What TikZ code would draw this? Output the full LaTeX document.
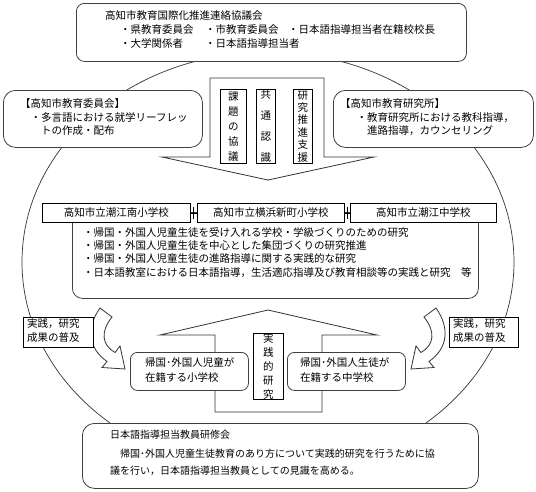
\documentclass[tikz,border=0pt]{standalone}
\usepackage{fontspec}
\newfontfamily\jp{Noto Sans CJK JP}
\begin{document}
\begin{tikzpicture}[x=1pt,y=-1pt,
  line join=miter,
  rbox/.style={draw=black!75, fill=white, line width=0.8pt, inner sep=0pt, anchor=north west},
  sbox/.style={draw=black, fill=white, line width=0.7pt, inner sep=0pt, anchor=north west,
    font={\jp\fontsize{10.5pt}{12pt}\selectfont}},
  vbox/.style={draw=black, fill=white, line width=0.7pt, inner sep=0pt, anchor=north west, align=center},
  blockarrow/.style={draw=black!80, fill=white, line width=0.8pt},
  txt/.style={anchor=base west, inner sep=0pt, font={\jp\fontsize{10.5pt}{12pt}\selectfont}},
  txts/.style={anchor=base west, inner sep=0pt, font={\jp\fontsize{10pt}{12pt}\selectfont}},
  conn/.style={draw=black, line width=0.7pt}
]
\useasboundingbox (0,0) rectangle (536,491);
\fill[white] (0,0) rectangle (536,491);

% big ellipse
\draw[line width=0.7pt, draw=black!80] (268,262) ellipse [x radius=246, y radius=210];

% central down arrow
\draw[blockarrow] (210,78) -- (324,78) -- (324,157) -- (374,157) -- (268,180) -- (162,157) -- (210,157) -- cycle;

% lower up arrow
\draw[blockarrow] (215,412) -- (215,335) -- (160,335) -- (268,310) -- (377,335) -- (322,335) -- (322,412) -- cycle;

% curved arrows
\draw[blockarrow] (100,308) -- (112,317) .. controls (100,332) and (102,345) .. (115,352.5)
  -- (120,346) -- (125,369) -- (102,367.5) -- (107,361.5)
  .. controls (88,348) and (86,328) .. (100,308) -- cycle;
\draw[blockarrow] (436,308) -- (424,317) .. controls (436,332) and (434,345) .. (421,352.5)
  -- (416,346) -- (411,369) -- (434,367.5) -- (429,361.5)
  .. controls (448,348) and (450,328) .. (436,308) -- cycle;

% top box
\node[rbox, rounded corners=8pt, minimum width=390pt, minimum height=58pt] (top) at (76,3) {};
\node[txt] (t1) at (105,19.5) {高知市教育国際化推進連絡協議会};
\node[txt] (t2) at (120,33) {・県教育委員会};
\node[txt] (t3) at (205,33) {・市教育委員会};
\node[txt] (t4) at (288,33) {・日本語指導担当者在籍校校長};
\node[txt] (t5) at (120,47) {・大学関係者};
\node[txt] (t6) at (205,47) {・日本語指導担当者};

% left and right boxes
\node[rbox, rounded corners=12pt, minimum width=199pt, minimum height=57pt] (lbox) at (3,90) {};
\node[txt] (l1) at (20,107) {【高知市教育委員会】};
\node[txt] (l2) at (30.5,121) {・多言語における就学リーフレッ};
\node[txt] (l3) at (41,134) {トの作成・配布};

\node[rbox, rounded corners=12pt, minimum width=200pt, minimum height=57pt] (rbox1) at (333,90) {};
\node[txt] (r1) at (340,107) {【高知市教育研究所】};
\node[txt] (r2) at (356.5,121) {・教育研究所における教科指導，};
\node[txt] (r3) at (367,134) {進路指導，カウンセリング};

% vertical label boxes
\node[vbox, minimum width=26pt, minimum height=74pt, font={\jp\fontsize{10.5pt}{15pt}\selectfont}] (kadai) at (220,89) {課\\題\\の\\協\\議};
\node[vbox, minimum width=19pt, minimum height=74pt, font={\jp\fontsize{10.5pt}{21pt}\selectfont}] (kyotsu) at (256,89) {共\\通\\認\\識};
\node[vbox, minimum width=19pt, minimum height=74pt, font={\jp\fontsize{10.5pt}{12.4pt}\selectfont}] (shien) at (293,89) {研\\究\\推\\進\\支\\援};

% content box
\node[rbox, rounded corners=10pt, minimum width=406pt, minimum height=86pt] (content) at (72,212) {};
\node[txt] (c1) at (83,236) {・帰国・外国人児童生徒を受け入れる学校・学級づくりのための研究};
\node[txt] (c2) at (83,249.5) {・帰国・外国人児童生徒を中心とした集団づくりの研究推進};
\node[txt] (c3) at (83,262.5) {・帰国・外国人児童生徒の進路指導に関する実践的な研究};
\node[txt] (c4) at (83,276.5) {・日本語教室における日本語指導，生活適応指導及び教育相談等の実践と研究　等};

% school boxes
\node[sbox, minimum width=148pt, minimum height=19pt] (s1) at (42,203) {高知市立潮江南小学校};
\node[sbox, minimum width=147pt, minimum height=19pt] (s2) at (197,203) {高知市立横浜新町小学校};
\node[sbox, minimum width=146pt, minimum height=19pt] (s3) at (350,203) {高知市立潮江中学校};
\draw[conn] (s1.east) -- (s2.west);
\draw[conn] (s2.east) -- (s3.west);
\coordinate (k1a) at ([xshift=2.5pt,yshift=-6pt]s1.east);
\coordinate (k1b) at ([xshift=2.5pt,yshift=6pt]s1.east);
\draw[conn] (k1a) -- (k1b);
\coordinate (k2a) at ([xshift=2.5pt,yshift=-6pt]s2.east);
\coordinate (k2b) at ([xshift=2.5pt,yshift=6pt]s2.east);
\draw[conn] (k2a) -- (k2b);

% spread label boxes
\node[vbox, minimum width=70pt, minimum height=30pt] (fukyuL) at (23,317) {};
\node[txt] (fl1) at (27,327.5) {実践，研究};
\node[txt] (fl2) at (27,341.5) {成果の普及};
\node[vbox, minimum width=69pt, minimum height=30pt] (fukyuR) at (449,317) {};
\node[txt] (fr1) at (453,327.5) {実践，研究};
\node[txt] (fr2) at (453,341.5) {成果の普及};

% lower school boxes
\node[rbox, rounded corners=7pt, minimum width=118pt, minimum height=38pt] (lowL) at (130,352) {};
\node[txt] (lo1) at (145,366) {帰国･外国人児童が};
\node[txt] (lo2) at (145,381.5) {在籍する小学校};
\node[rbox, rounded corners=7pt, minimum width=118pt, minimum height=38pt] (lowR) at (287,352) {};
\node[txt] (lr1) at (300,366) {帰国･外国人生徒が};
\node[txt] (lr2) at (300,381.5) {在籍する中学校};

% practical research label
\node[vbox, minimum width=30pt, minimum height=65pt, font={\jp\fontsize{10.5pt}{14pt}\selectfont}] (jissen) at (253,333) {実\\践\\的\\研\\究};

% bottom box
\node[rbox, rounded corners=12pt, minimum width=396pt, minimum height=65pt] (bottom) at (82,423) {};
\node[txts] (b1) at (110,438.5) {日本語指導担当教員研修会};
\node[txts] (b2) at (110,457) {　帰国･外国人児童生徒教育のあり方について実践的研究を行うために協};
\node[txts] (b3) at (110,474.5) {議を行い，日本語指導担当教員としての見識を高める。};
\end{tikzpicture}
\end{document}
